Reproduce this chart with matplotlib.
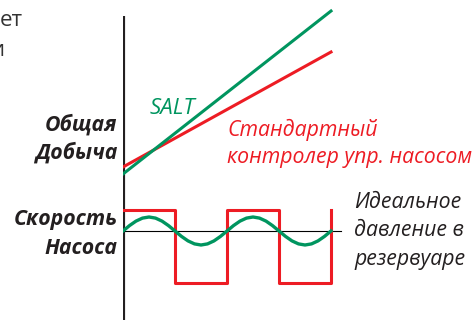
import matplotlib
matplotlib.use('Agg')
import matplotlib.pyplot as plt

# time axis in half-periods of the pump cycle
t_prod = [0, 4]
prod_salt = [146, 309]       # SALT cumulative production
prod_std = [153, 268]        # standard pump-off controller

t_pump = [0, 1, 2, 3, 4]
pump_std = [110, 37, 110, 37, 110]   # on/off pump speed

t_salt_speed = [0, 0.125, 0.25, 0.375, 0.5, 0.625, 0.75, 0.875,
                1, 1.125, 1.25, 1.375, 1.5, 1.625, 1.75, 1.875,
                2, 2.125, 2.25, 2.375, 2.5, 2.625, 2.75, 2.875,
                3, 3.125, 3.25, 3.375, 3.5, 3.625, 3.75, 3.875, 4]
salt_speed = [89, 94.4, 98.9, 101.9, 103, 101.9, 98.9, 94.4,
              89, 83.6, 79.1, 76.1, 75, 76.1, 79.1, 83.6,
              89, 94.4, 98.9, 101.9, 103, 101.9, 98.9, 94.4,
              89, 83.6, 79.1, 76.1, 75, 76.1, 79.1, 83.6, 89]
ideal_pressure = 89
t_ideal = [0, 4.2]

RED = '#ed1c24'
GREEN = '#00955f'
DARK = '#231f20'

W, H = 476, 320
fig = plt.figure(figsize=(W / 100, H / 100), dpi=100)
plt.rcParams['font.family'] = ['Open Sans', 'DejaVu Sans']

x0 = 123.0
unit = 52.0
ax = fig.add_axes([x0 / W, 0, 1 - x0 / W, 1])
ax.set_xlim(0, (W - x0) / unit)
ax.set_ylim(0, H)
ax.axis('off')

# vertical axis line
ax.plot([0, 0], [0, H - 16], color=DARK, lw=3, solid_capstyle='butt')

ax.plot(t_ideal, [ideal_pressure] * 2, color='black', lw=0.8)
ax.plot(t_prod, prod_std, color=RED, lw=2.2)
ax.plot(t_prod, prod_salt, color=GREEN, lw=2.2)
ax.step(t_pump, pump_std, where='post', color=RED, lw=2.2)
ax.plot(t_salt_speed, salt_speed, color=GREEN, lw=2.4)


def px(x, y):
    return x / W, 1 - y / H


fig.text(*px(23, 20), 'ет', ha='right', va='center', fontsize=16, color='#333333')
fig.text(*px(4, 50), 'и', ha='right', va='center', fontsize=16, color='#333333')

lab = dict(ha='right', va='center', fontsize=15.3, style='italic', weight='bold', color=DARK)
fig.text(*px(117, 125), 'Общая', **lab)
fig.text(*px(117, 153), 'Добыча', **lab)
fig.text(*px(118, 220), 'Скорость', **lab)
fig.text(*px(117, 248), 'Насоса', **lab)

fig.text(*px(150, 108), 'SALT', ha='left', va='center', fontsize=16, style='italic', color=GREEN)
fig.text(*px(227, 130), 'Стандартный', ha='left', va='center', fontsize=15.3, style='italic', color=RED)
fig.text(*px(227, 158), 'контролер упр. насосом', ha='left', va='center', fontsize=15.3, style='italic', color=RED)

rt = dict(ha='left', va='center', fontsize=15.3, style='italic', color=DARK)
fig.text(*px(354, 202), 'Идеальное', **rt)
fig.text(*px(354, 231), 'давление в', **rt)
fig.text(*px(354, 260), 'резервуаре', **rt)

fig.savefig('out.png', dpi=100)
